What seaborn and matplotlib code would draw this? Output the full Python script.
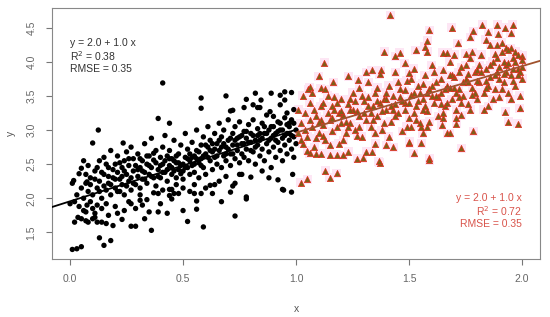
import numpy as np
import pandas as pd
import matplotlib
matplotlib.use("Agg")
import matplotlib.pyplot as plt
import seaborn as sns

# =========================
# DATA
# =========================

black_x = [
    0.01, 0.03, 0.05, 0.13, 0.15, 0.18, 0.00, 0.02, 0.035, 0.05, 0.07, 0.08, 0.10, 0.11, 0.12, 0.14,
    0.16, 0.19, 0.27, 0.29, 0.36, 0.23, 0.33, 0.35, 0.39, 0.43, 0.11, 0.10, 0.07, 0.06, 0.075, 0.27,
    0.31, 0.32, 0.29, 0.40, 0.39, 0.44, 0.01, 0.016, 0.04, 0.05, 0.07, 0.075, 0.59, 0.52, 0.50, 0.56,
    0.73, 0.67, 0.56, 0.78, 0.78, 0.94, 0.945, 0.98, 0.92, 0.985, 0.80, 0.76, 0.75, 0.71, 0.72, 0.73,
    0.63, 0.62, 0.64, 0.55, 0.58, 0.55, 0.48, 0.46, 0.47, 0.45, 0.44, 0.45,
    0.125, 0.10, 0.235, 0.39, 0.41, 0.44, 0.58, 0.58, 0.69, 0.72, 0.78, 0.82, 0.89, 0.83, 0.77, 0.93,
    0.95, 0.845, 0.95, 0.84, 0.81, 0.93, 0.885, 0.71, 0.96, 0.90, 0.99, 0.98, 0.97,
    0.08, 0.09, 0.10, 0.11, 0.12, 0.13, 0.13, 0.14, 0.15, 0.15, 0.16, 0.17, 0.17, 0.18, 0.18, 0.19,
    0.20, 0.20, 0.21, 0.21, 0.22, 0.22, 0.23, 0.23, 0.24, 0.24, 0.25, 0.25, 0.26, 0.26, 0.27, 0.27,
    0.28, 0.28, 0.29, 0.30, 0.30, 0.31, 0.31, 0.32, 0.32, 0.33, 0.33, 0.34, 0.34, 0.35, 0.35, 0.36,
    0.36, 0.37, 0.37, 0.38, 0.38, 0.39, 0.40, 0.40, 0.41, 0.41, 0.42, 0.42, 0.43, 0.43, 0.44, 0.44,
    0.45, 0.45, 0.46, 0.46, 0.47, 0.47, 0.48, 0.48, 0.49, 0.49, 0.50, 0.50, 0.51, 0.51, 0.52, 0.52,
    0.53, 0.53, 0.54, 0.54, 0.55, 0.55, 0.56, 0.56, 0.57, 0.57, 0.58, 0.58, 0.59, 0.59, 0.60, 0.60,
    0.61, 0.61, 0.62, 0.62, 0.63, 0.63, 0.64, 0.64, 0.65, 0.65, 0.66, 0.66, 0.67, 0.67, 0.68, 0.68,
    0.69, 0.69, 0.70, 0.70, 0.71, 0.71, 0.72, 0.72, 0.73, 0.73, 0.74, 0.74, 0.75, 0.75, 0.76, 0.76,
    0.77, 0.77, 0.78, 0.78, 0.79, 0.79, 0.80, 0.80, 0.81, 0.81, 0.82, 0.82, 0.83, 0.83, 0.84, 0.84,
    0.85, 0.85, 0.86, 0.86, 0.87, 0.87, 0.88, 0.88, 0.89, 0.89, 0.90, 0.90, 0.91, 0.91, 0.92, 0.92,
    0.93, 0.93, 0.94, 0.94, 0.95, 0.95, 0.96, 0.96, 0.97, 0.97, 0.98, 0.98, 0.99, 0.99, 1.00, 1.00,
    0.02, 0.03, 0.04, 0.05, 0.06, 0.06, 0.07, 0.08, 0.09, 0.12, 0.14, 0.16, 0.17, 0.20, 0.21, 0.24,
    0.26, 0.31, 0.34, 0.37, 0.41, 0.50, 0.53, 0.60, 0.66, 0.69, 0.85, 0.88,
    0.09, 0.11, 0.12, 0.13, 0.14, 0.15, 0.16, 0.17, 0.18, 0.19, 0.20, 0.21, 0.22, 0.23, 0.24, 0.25,
    0.26, 0.27, 0.28, 0.29, 0.30, 0.31, 0.32, 0.33, 0.34, 0.35, 0.36, 0.37, 0.38, 0.39, 0.40, 0.41,
    0.42, 0.43, 0.44, 0.45, 0.46, 0.47, 0.48, 0.49, 0.50, 0.51, 0.52, 0.53, 0.54, 0.55, 0.56, 0.57,
    0.58, 0.59, 0.60, 0.61, 0.62, 0.63, 0.64, 0.65, 0.66, 0.67, 0.68, 0.69, 0.70, 0.71, 0.72, 0.73,
    0.74, 0.75, 0.76, 0.77, 0.78, 0.79, 0.80, 0.81, 0.82, 0.83, 0.84, 0.85, 0.86, 0.87, 0.88, 0.89,
    0.90, 0.91, 0.92, 0.93, 0.94, 0.95, 0.96, 0.97, 0.98, 0.99,
]
black_y = [
    1.25, 1.26, 1.29, 1.42, 1.31, 1.38, 1.92, 1.65, 1.72, 1.70, 1.67, 1.65, 1.70, 1.72, 1.65, 1.65,
    1.63, 1.60, 1.59, 1.59, 1.53, 1.69, 1.70, 1.80, 1.80, 1.78, 1.78, 1.85, 1.80, 1.82, 1.90, 1.92,
    1.97, 1.90, 1.85, 1.92, 2.07, 2.04, 2.22, 2.26, 2.36, 2.44, 2.22, 2.24, 1.58, 1.66, 1.82, 1.84,
    1.74, 1.95, 1.96, 1.99, 2.02, 2.13, 2.12, 2.09, 2.27, 2.35, 2.31, 2.35, 2.35, 2.09, 2.18, 2.22,
    2.07, 2.19, 2.20, 2.07, 2.07, 2.20, 2.07, 2.07, 2.20, 2.13, 2.13, 1.99,
    3.00, 2.81, 2.81, 3.17, 3.69, 3.10, 3.47, 3.32, 3.50, 3.29, 3.45, 3.54, 3.54, 3.33, 3.33, 3.51,
    3.56, 3.44, 3.44, 3.33, 3.37, 3.37, 3.27, 3.28, 3.25, 3.20, 3.30, 3.55, 3.10,
    2.10, 2.30, 2.05, 2.40, 2.15, 2.55, 2.25, 2.00, 2.35, 2.60, 2.12, 2.45, 2.22, 2.05, 2.70, 2.30,
    2.15, 2.50, 2.38, 2.62, 2.10, 2.28, 2.45, 2.20, 2.55, 2.05, 2.35, 2.68, 2.25, 2.48, 2.12, 2.75,
    2.40, 2.58, 2.20, 2.32, 2.65, 2.45, 2.15, 2.55, 2.28, 2.38, 2.80, 2.50, 2.22, 2.62, 2.35, 2.45,
    2.88, 2.30, 2.56, 2.70, 2.18, 2.42, 2.60, 2.30, 2.50, 2.75, 2.38, 2.92, 2.62, 2.25, 2.48, 2.70,
    2.35, 2.58, 2.40, 2.85, 2.52, 2.30, 2.65, 2.42, 2.36, 2.78, 2.50, 2.28, 2.60, 2.95, 2.45, 2.72,
    2.35, 2.55, 2.82, 2.48, 2.62, 2.38, 2.70, 3.00, 2.52, 2.30, 2.78, 2.58, 2.45, 2.90, 2.65, 2.35,
    2.75, 3.05, 2.55, 2.85, 2.42, 2.68, 2.95, 2.60, 2.50, 2.80, 3.10, 2.70, 2.45, 2.90, 2.62, 3.00,
    2.75, 2.55, 2.85, 3.15, 2.65, 2.48, 2.95, 2.78, 2.58, 3.05, 2.70, 2.88, 2.52, 3.12, 2.80, 2.65,
    2.98, 2.60, 2.88, 2.72, 3.08, 2.55, 2.82, 2.95, 2.68, 3.15, 2.75, 2.50, 2.92, 3.02, 2.62, 2.85,
    3.10, 2.72, 2.95, 2.55, 2.80, 3.22, 2.68, 3.00, 2.88, 2.45, 3.05, 2.75, 2.60, 2.95, 3.12, 2.82,
    2.70, 3.00, 2.88, 2.55, 3.18, 2.78, 2.95, 2.65, 2.85, 3.05, 2.72, 2.92, 3.10, 2.60, 2.80, 3.00,
    1.95, 2.05, 1.88, 2.15, 2.00, 2.55, 2.35, 2.48, 1.95, 1.90, 1.85, 1.92, 1.75, 1.88, 1.78, 1.82,
    1.95, 2.05, 1.98, 2.08, 2.12, 2.15, 2.10, 2.15, 2.25, 2.32, 2.40, 2.30,
    2.20, 2.28, 2.45, 2.10, 2.38, 2.18, 2.50, 2.32, 2.20, 2.42, 2.28, 2.10, 2.52, 2.32, 2.40, 2.18,
    2.58, 2.30, 2.22, 2.48, 2.42, 2.58, 2.40, 2.28, 2.62, 2.48, 2.32, 2.66, 2.52, 2.32, 2.48, 2.38,
    2.55, 2.42, 2.58, 2.45, 2.55, 2.62, 2.52, 2.48, 2.40, 2.45, 2.58, 2.65, 2.60, 2.50, 2.58, 2.68,
    2.48, 2.62, 2.78, 2.60, 2.70, 2.80, 2.72, 2.62, 2.85, 2.75, 2.80, 2.65, 2.72, 2.88, 2.65, 2.85,
    2.78, 2.90, 2.92, 2.80, 2.98, 2.82, 2.70, 2.92, 2.85, 2.78, 2.95, 2.88, 3.05, 2.95, 2.85, 3.05,
    2.92, 2.85, 2.98, 3.10, 3.00, 2.92, 3.08, 2.95, 3.15, 2.90,
]

red_x = [
    1.416, 1.125, 1.10, 1.055, 1.39, 1.44, 1.59, 1.58, 1.69, 1.785, 1.825, 1.89, 1.96, 1.925, 1.715,
    1.77, 1.84, 1.95, 2.00, 1.67, 1.73, 1.785, 1.94, 1.98, 1.925, 1.99, 1.52, 1.59, 1.555, 1.50,
    1.02, 1.05, 1.13, 1.15, 1.18, 1.37, 1.59, 1.27, 1.295, 1.365, 1.23, 1.31, 1.335, 1.35, 1.40,
    1.43, 1.50, 1.06, 1.09, 1.11, 1.15, 1.18, 1.21, 1.56, 1.555, 1.58, 1.51, 1.68, 1.645, 1.65,
    1.71, 1.71, 1.73, 1.23, 1.275, 1.335, 1.375, 1.06, 1.11, 1.165, 1.48, 1.50, 1.85, 1.895,
    1.46, 1.53, 1.57, 1.58, 1.65, 1.67, 1.70, 1.75, 1.78, 1.86, 1.89, 1.91, 1.93, 1.95, 1.97,
    1.01, 1.02, 1.03, 1.04, 1.05, 1.06, 1.07, 1.08, 1.09, 1.10, 1.11, 1.12, 1.13, 1.14, 1.15, 1.16,
    1.17, 1.18, 1.19, 1.20, 1.21, 1.22, 1.23, 1.24, 1.25, 1.26, 1.27, 1.28, 1.29, 1.30, 1.31, 1.32,
    1.33, 1.34, 1.35, 1.36, 1.37, 1.38, 1.39, 1.40, 1.41, 1.42, 1.43, 1.44, 1.45, 1.46, 1.47, 1.48,
    1.49, 1.50, 1.51, 1.52, 1.53, 1.54, 1.55, 1.56, 1.57, 1.58, 1.59, 1.60, 1.61, 1.62, 1.63, 1.64,
    1.65, 1.66, 1.67, 1.68, 1.69, 1.70, 1.71, 1.72, 1.73, 1.74, 1.75, 1.76, 1.77, 1.78, 1.79, 1.80,
    1.81, 1.82, 1.83, 1.84, 1.85, 1.86, 1.87, 1.88, 1.89, 1.90, 1.91, 1.92, 1.93, 1.94, 1.95, 1.96,
    1.97, 1.98, 1.99, 2.00,
    1.01, 1.03, 1.05, 1.07, 1.09, 1.11, 1.13, 1.15, 1.17, 1.19, 1.21, 1.23, 1.25, 1.27, 1.29, 1.31,
    1.33, 1.35, 1.37, 1.39, 1.41, 1.43, 1.45, 1.47, 1.49, 1.51, 1.53, 1.55, 1.57, 1.59, 1.61, 1.63,
    1.65, 1.67, 1.69, 1.71, 1.73, 1.75, 1.77, 1.79, 1.81, 1.83, 1.85, 1.87, 1.89, 1.91, 1.93, 1.95,
    1.97, 1.99,
    1.12, 1.16, 1.20, 1.24, 1.28, 1.32, 1.36, 1.40, 1.44, 1.48, 1.52, 1.56, 1.60, 1.64, 1.68, 1.72,
    1.76, 1.80, 1.84, 1.88, 1.92, 1.96, 2.00, 1.98, 1.94, 1.90,
    1.02, 1.04, 1.06, 1.08, 1.10, 1.12, 1.14, 1.16, 1.18, 1.20, 1.22, 1.24, 1.26, 1.28, 1.30, 1.32,
    1.34, 1.36, 1.38, 1.40, 1.42, 1.44, 1.46, 1.48, 1.50, 1.52, 1.54, 1.56, 1.58, 1.60, 1.62, 1.64,
    1.66, 1.68, 1.70, 1.72, 1.74, 1.76, 1.78, 1.80, 1.82, 1.84, 1.86, 1.88, 1.90, 1.92, 1.94, 1.96,
    1.98, 2.00,
]
red_y = [
    4.68, 3.99, 3.79, 3.60, 4.15, 4.08, 4.46, 4.31, 4.50, 4.45, 4.54, 4.54, 4.54, 4.50, 4.27,
    4.36, 4.32, 4.42, 4.09, 2.95, 2.73, 2.98, 3.12, 3.09, 3.27, 3.32, 2.66, 2.59, 2.81, 2.81,
    2.23, 2.28, 2.40, 2.30, 2.37, 2.52, 2.56, 2.58, 2.59, 2.54, 2.68, 2.68, 2.68, 2.80, 2.78,
    2.75, 2.83, 2.66, 2.65, 2.65, 2.64, 2.64, 2.63, 2.95, 3.05, 3.05, 3.05, 2.95, 3.07, 3.17,
    3.09, 3.17, 3.22, 3.79, 3.74, 3.88, 3.88, 3.63, 3.61, 3.70, 3.98, 3.83, 4.43, 4.41,
    4.13, 4.17, 4.22, 4.15, 4.13, 4.13, 4.10, 4.12, 4.14, 4.25, 4.25, 4.28, 4.20, 4.20, 4.15,
    2.95, 3.10, 2.80, 3.25, 2.90, 3.40, 3.05, 2.75, 3.20, 2.95, 3.35, 3.08, 2.85, 3.50, 3.15, 2.98,
    3.30, 3.05, 2.80, 3.45, 3.22, 2.95, 3.38, 3.10, 3.55, 3.00, 3.28, 3.62, 2.90, 3.42, 3.15, 3.70,
    3.05, 3.35, 3.55, 3.20, 3.82, 3.00, 3.45, 3.30, 3.65, 3.12, 3.50, 3.85, 3.25, 3.60, 2.98, 3.40,
    3.72, 3.18, 3.52, 3.90, 3.35, 3.65, 3.10, 3.45, 3.80, 3.28, 3.60, 3.95, 3.40, 3.70, 3.20, 3.55,
    3.88, 3.35, 3.65, 4.00, 3.45, 3.78, 3.30, 3.60, 3.92, 3.50, 3.75, 3.38, 4.05, 3.62, 3.85, 3.45,
    3.70, 4.10, 3.55, 3.90, 3.35, 3.78, 4.00, 3.60, 3.85, 3.48, 4.15, 3.70, 3.95, 3.55, 3.80, 4.05,
    3.65, 3.90, 3.50, 3.75,
    3.30, 3.50, 2.70, 3.55, 2.88, 3.15, 3.60, 2.78, 3.48, 3.25, 2.85, 3.05, 3.30, 2.92, 3.50, 3.85,
    3.25, 2.95, 3.40, 3.10, 2.90, 3.30, 3.70, 3.42, 3.05, 3.75, 3.15, 3.55, 3.35, 3.12, 3.85, 3.48,
    3.25, 3.40, 3.80, 3.55, 3.40, 3.95, 3.30, 3.55, 3.95, 3.30, 3.65, 3.45, 4.05, 3.60, 3.85, 3.45,
    4.00, 3.85,
    3.40, 3.35, 3.10, 3.45, 3.20, 3.48, 3.62, 3.55, 3.38, 3.58, 3.25, 3.68, 3.50, 3.75, 3.62, 3.85,
    3.70, 3.88, 3.72, 4.12, 4.00, 3.90, 4.02, 4.10, 4.18, 3.75,
    2.85, 3.00, 3.15, 3.30, 3.12, 2.92, 3.25, 3.18, 3.40, 3.28, 3.12, 3.30, 3.42, 3.05, 3.25, 3.35,
    3.15, 3.42, 3.28, 3.45, 3.35, 3.20, 3.48, 3.30, 3.40, 3.55, 3.42, 3.30, 3.55, 3.65, 3.50, 3.38,
    3.60, 3.80, 3.62, 3.48, 3.70, 3.82, 3.52, 3.72, 3.85, 3.62, 3.95, 3.80, 3.92, 3.82, 3.98, 3.72,
    3.80, 3.92,
]

black_df = pd.DataFrame({"x": black_x, "y": black_y})
red_df = pd.DataFrame({"x": red_x, "y": red_y})

XLIM = (-0.08, 2.08)
YLIM = (1.11, 4.79)

# =========================
# PLOT
# =========================

sns.set_style("white")
plt.rcParams["font.family"] = ["Liberation Sans", "DejaVu Sans"]

fig = plt.figure(figsize=(5.5, 3.17), dpi=100)
ax = fig.add_axes([0.0945, 0.183, 0.8875, 0.792])

# light pink halo behind the triangles
sns.scatterplot(data=red_df, x="x", y="y", marker="s", s=42, color="#fde6f4",
                edgecolor="none", ax=ax, zorder=1)
sns.scatterplot(data=black_df, x="x", y="y", s=15, color="black",
                edgecolor="none", ax=ax, zorder=3)
sns.scatterplot(data=red_df, x="x", y="y", marker="^", s=20, color="#7e5f17",
                edgecolor="#e32a1c", linewidth=0.5, ax=ax, zorder=3)

# fitted lines
b1, b0 = np.polyfit(black_x, black_y, 1)
r1, r0 = np.polyfit(red_x, red_y, 1)
lx = np.array([XLIM[0], 1.0])
rx = np.array([1.0, XLIM[1]])
sns.lineplot(x=lx, y=b0 + b1 * lx, color="black", linewidth=1.3, ax=ax, zorder=4)
sns.lineplot(x=rx, y=r0 + r1 * rx, color="#a0522d", linewidth=1.3, ax=ax, zorder=4)

ax.set_xlim(*XLIM)
ax.set_ylim(*YLIM)
ax.set_xticks([0.0, 0.5, 1.0, 1.5, 2.0])
ax.set_yticks([1.5, 2.0, 2.5, 3.0, 3.5, 4.0, 4.5])
ax.set_xticklabels(["0.0", "0.5", "1.0", "1.5", "2.0"])
ax.set_yticklabels(["1.5", "2.0", "2.5", "3.0", "3.5", "4.0", "4.5"], rotation=90, va="center")
ax.tick_params(axis="both", direction="out", length=4, width=0.8, color="#777777",
               labelcolor="#666666", labelsize=7.5, pad=7)
ax.tick_params(axis="x", bottom=True)
ax.tick_params(axis="y", left=True)
for side in ax.spines.values():
    side.set_color("#888888")
    side.set_linewidth(0.8)

ax.set_xlabel("x", color="#555555", fontsize=7.5, labelpad=14)
ax.set_ylabel("y", color="#555555", fontsize=7.5, labelpad=8)

# fit statistics
ax.text(0.0, 4.28, "y = 2.0 + 1.0 x", fontsize=7.5, color="#333333", va="center")
ax.text(0.0, 4.09, "R$^2$ = 0.38", fontsize=7.5, color="#333333", va="center")
ax.text(0.0, 3.90, "RMSE = 0.35", fontsize=7.5, color="#333333", va="center")

ax.text(2.0, 2.00, "y = 2.0 + 1.0 x", fontsize=7.5, color="#d9534a", va="center", ha="right")
ax.text(2.0, 1.81, "R$^2$ = 0.72", fontsize=7.5, color="#d9534a", va="center", ha="right")
ax.text(2.0, 1.62, "RMSE = 0.35", fontsize=7.5, color="#d9534a", va="center", ha="right")

fig.savefig("out.png", dpi=100)
